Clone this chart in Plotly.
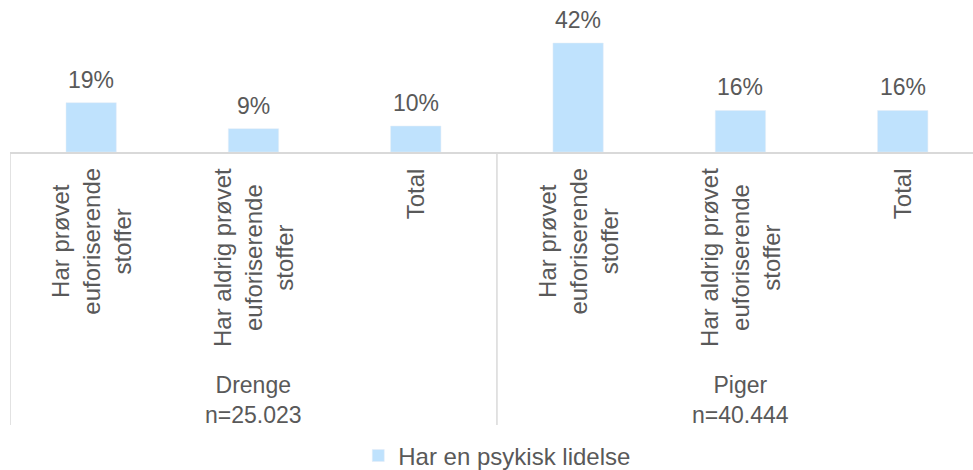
import plotly.graph_objects as go

groups = ["Drenge<br>n=25.023", "Piger<br>n=40.444"]
categories = [
    "Har prøvet<br>euforiserende<br>stoffer",
    "Har aldrig prøvet<br>euforiserende<br>stoffer",
    "Total",
    "Har prøvet<br>euforiserende<br>stoffer",
    "Har aldrig prøvet<br>euforiserende<br>stoffer",
    "Total",
]
group_of = [0, 0, 0, 1, 1, 1]
values = [19, 9, 10, 42, 16, 16]
series_name = "Har en psykisk lidelse"

BAR = "#BFE2FD"
TXT = "#595959"
LINE = "#D9D9D9"
FONT = "Liberation Sans, Arial, sans-serif"
FS = 23

xs = list(range(len(categories)))

fig = go.Figure()
fig.add_trace(go.Bar(
    x=xs, y=values, name=series_name, marker_color=BAR, width=0.31,
    showlegend=True, hoverinfo="skip",
))

annotations = []
for x, v in zip(xs, values):
    annotations.append(dict(x=x, y=v, xref="x", yref="y", text=f"{v}%",
                            showarrow=False, yanchor="bottom", yshift=8,
                            font=dict(size=FS, color=TXT, family=FONT)))
for x, c in zip(xs, categories):
    annotations.append(dict(x=x, y=0, xref="x", yref="paper", text=c,
                            showarrow=False, textangle=-90, yanchor="top",
                            xanchor="center", align="center", yshift=-14,
                            font=dict(size=24, color=TXT, family=FONT)))
ngroups = len(groups)
for g, name in enumerate(groups):
    idx = [i for i, gg in enumerate(group_of) if gg == g]
    cx = sum(idx) / len(idx)
    annotations.append(dict(x=cx, y=0, xref="x", yref="paper", text=name,
                            showarrow=False, yanchor="top", xanchor="center",
                            align="center", yshift=-218,
                            font=dict(size=FS, color=TXT, family=FONT)))

shapes = []
bounds = [-0.5] + [max(i for i, gg in enumerate(group_of) if gg == g) + 0.5 for g in range(ngroups)]
for b in bounds:
    shapes.append(dict(type="line", xref="x", yref="paper", x0=b, x1=b,
                       y0=0, y1=-1.796, line=dict(color=LINE, width=1.5)))

fig.update_layout(
    width=973, height=470,
    margin=dict(l=10, r=0, t=0, b=318, autoexpand=False),
    paper_bgcolor="white", plot_bgcolor="white",
    font=dict(family=FONT, size=FS, color=TXT),
    xaxis=dict(range=[-0.5, 5.433], showticklabels=False, showgrid=False,
               zeroline=False, showline=True, linecolor=LINE, linewidth=1.5,
               ticks="", fixedrange=True),
    yaxis=dict(range=[0, 58.57], visible=False, showgrid=False, zeroline=False,
               fixedrange=True),
    legend=dict(orientation="h", x=0.506, xanchor="center", yref="container",
                y=0.03, yanchor="middle", font=dict(size=24, color=TXT, family=FONT),
                itemwidth=30),
    annotations=annotations,
    shapes=shapes,
    showlegend=True,
)

fig.write_html("out.html", config={"displayModeBar": False},
               post_script="document.body.style.margin='0';document.body.style.overflow='hidden';")
